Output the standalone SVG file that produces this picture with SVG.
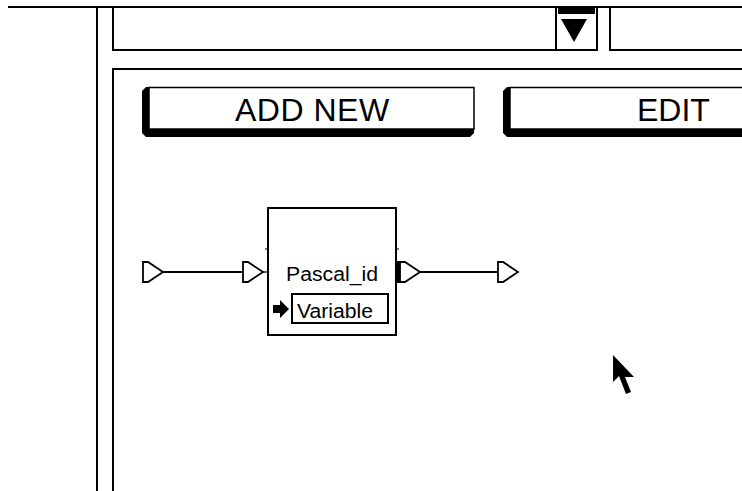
<svg xmlns="http://www.w3.org/2000/svg" width="742" height="491" viewBox="0 0 742 491">
<style>
.ln{fill:none;stroke:#000;stroke-width:2}
.thin{fill:none;stroke:#000;stroke-width:1.5}
.btn{font-family:"Liberation Sans",Arial,sans-serif;font-size:32px;fill:#000}
.lbl{font-family:"Liberation Sans",Arial,sans-serif;font-size:20px;fill:#000}
.port{fill:#fff;stroke:#000;stroke-width:1.8;stroke-linejoin:miter}
</style>
<rect width="742" height="491" fill="#fff"/>
<g id="frame">
<line class="ln" x1="8" y1="7" x2="742" y2="7"/>
<line class="ln" x1="97" y1="7" x2="97" y2="491"/>
<polyline class="ln" points="113,7 113,50 556,50"/>
<polyline class="ln" points="113,491 113,69 742,69"/>
</g>
<g id="dropdown">
<polyline class="ln" points="556,7 556,50 597,50 597,7"/>
<rect x="558" y="8" width="37" height="6" fill="#000"/>
<polygon points="561,19 587,19 574,42" fill="#000"/>
</g>
<g id="field2">
<polyline class="ln" points="610,7 610,50 742,50"/>
</g>
<g id="add-new">
<polygon points="146,87 149,87 149,129 474,129 474,133 470,137 146,137 142,133 142,91" fill="#000"/>
<rect x="149" y="87.5" width="325" height="41.5" fill="#fff" stroke="#000" stroke-width="1.5"/>
<text class="btn" x="235" y="121" letter-spacing="0.5">ADD NEW</text>
</g>
<g id="edit">
<polygon points="507,87 510,87 510,129 742,129 742,137 507,137 503,133 503,91" fill="#000"/>
<rect x="510" y="87.5" width="240" height="41.5" fill="#fff" stroke="#000" stroke-width="1.5"/>
<text class="btn" x="637" y="121">EDIT</text>
</g>
<g id="connectors">
<line class="ln" x1="163" y1="272" x2="243" y2="272"/>
<line x1="263" y1="272" x2="268" y2="272" stroke="#000" stroke-width="1.2"/>
<line class="ln" x1="420" y1="272" x2="498" y2="272"/>
<polygon class="port" points="143,262 148,262 163,272 148,282 143,282"/>
<polygon class="port" points="243,262 248,262 263,272 248,282 243,282"/>
<rect x="396" y="261" width="4" height="22" fill="#000"/>
<polygon class="port" points="400,262 405,262 420,272 405,282 400,282"/>
<polygon class="port" points="498,262 503,262 518,272 503,282 498,282"/>
</g>
<g id="pascal-id">
<rect x="268" y="208" width="128" height="127" fill="none" stroke="#000" stroke-width="2"/>
<line x1="265" y1="249" x2="268" y2="249" stroke="#000" stroke-width="1"/>
<line x1="396" y1="249" x2="399" y2="249" stroke="#000" stroke-width="1"/>
<text class="lbl" x="286" y="281" textLength="92" lengthAdjust="spacingAndGlyphs">Pascal_id</text>
<rect x="292" y="294" width="96" height="29" fill="#fff" stroke="#000" stroke-width="2"/>
<text class="lbl" x="297" y="318" textLength="76" lengthAdjust="spacingAndGlyphs">Variable</text>
<polygon points="273,305 280,305 280,300 289,309 280,318 280,313 273,313" fill="#000"/>
</g>
<g id="cursor">
<polygon points="613,355 613,382 619,376 626,394 631,392 625,377 634,377" fill="#000"/>
</g>
</svg>
